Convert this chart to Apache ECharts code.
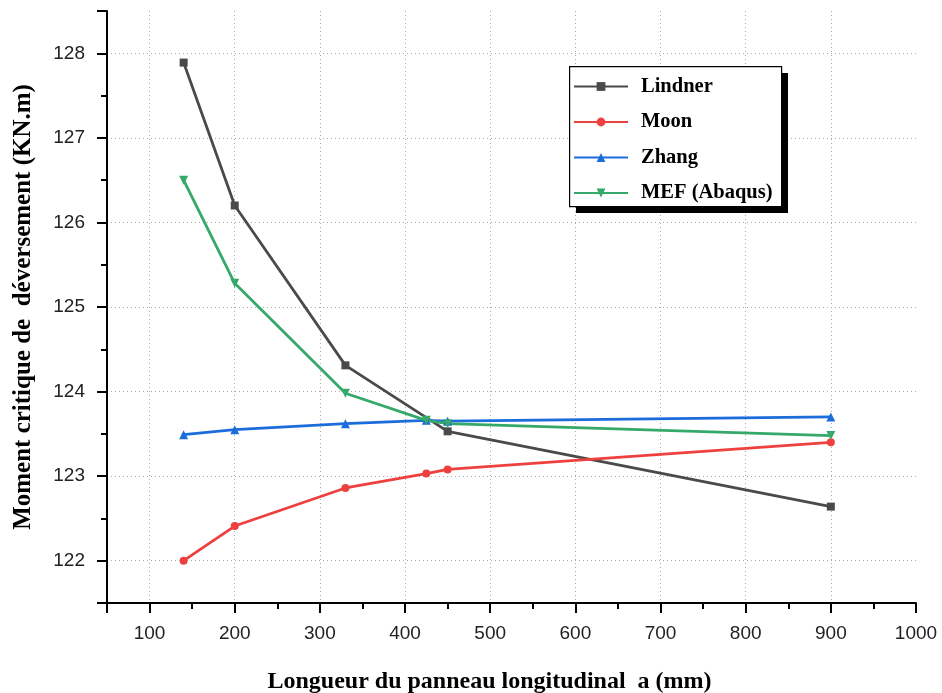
<!DOCTYPE html>
<html>
<head>
<meta charset="utf-8">
<script src="https://cdn.jsdelivr.net/npm/echarts@6/dist/echarts.min.js"></script>
<style>
  html, body { margin: 0; padding: 0; background: #fff; }
  #chart { width: 942px; height: 693px; }
</style>
</head>
<body>
<div id="chart"></div>
<script>
// values
const lindnerX = [140, 200, 330, 450, 900];
const lindnerY = [127.89, 126.2, 124.31, 123.53, 122.64];
const moonX = [140, 200, 330, 425, 450, 900];
const moonY = [122.0, 122.41, 122.86, 123.03, 123.08, 123.4];
const zhangX = [140, 200, 330, 425, 450, 900];
const zhangY = [123.49, 123.55, 123.62, 123.66, 123.65, 123.7];
const mefX = [140, 200, 330, 425, 450, 900];
const mefY = [126.5, 125.28, 123.98, 123.66, 123.62, 123.48];

const pairs = (xs, ys) => xs.map((x, i) => [x, ys[i]]);

const chart = echarts.init(document.getElementById('chart'));

const makeSeries = (name, xs, ys, color, symbol, size) => ({
  name: name,
  type: 'line',
  data: pairs(xs, ys),
  symbol: symbol,
  symbolSize: size,
  showAllSymbol: true,
  lineStyle: { color: color, width: 2.8 },
  itemStyle: { color: color },
  emphasis: { disabled: true }
});

const serif = '"Liberation Serif", "Times New Roman", serif';
const sans = '"Liberation Sans", Arial, sans-serif';

chart.setOption({
  animation: false,
  grid: { left: 107, right: 26, top: 11, bottom: 90, outerBoundsMode: 'none', containLabel: false },
  // legend frame with its offset black shadow
  graphic: [
    { type: 'rect', z: 3, left: 576, top: 73, shape: { width: 212, height: 140 }, style: { fill: '#000' } },
    { type: 'rect', z: 3, left: 569, top: 66, shape: { width: 212, height: 140 }, style: { fill: '#fff', stroke: '#000', lineWidth: 1.2 } }
  ],
  legend: {
    orient: 'vertical',
    left: 573,
    top: 76,
    padding: 0,
    itemGap: 14.5,
    itemWidth: 54,
    itemHeight: 11,
    textStyle: { fontFamily: serif, fontWeight: 'bold', fontSize: 20.5, lineHeight: 20, color: '#000', padding: [0, 0, 0, 8] },
    data: ['Lindner', 'Moon', 'Zhang', 'MEF (Abaqus)']
  },
  xAxis: {
    type: 'value',
    min: 50,
    max: 1000,
    splitNumber: 10,
    name: 'Longueur du panneau longitudinal  a (mm)',
    nameLocation: 'middle',
    nameGap: 67,
    nameTextStyle: { fontFamily: serif, fontWeight: 'bold', fontSize: 24, color: '#000', padding: [0, 44, 0, 0] },
    axisLine: { show: true, onZero: false, lineStyle: { color: '#000', width: 2 } },
    axisTick: { show: true, length: 10, lineStyle: { color: '#000', width: 2 } },
    minorTick: { show: true, splitNumber: 2, length: 6, lineStyle: { color: '#000', width: 2 } },
    axisLabel: { fontFamily: sans, fontSize: 19, color: '#222', margin: 21, showMinLabel: false, formatter: (v) => String(v) },
    splitLine: { show: true, showMinLine: false, showMaxLine: false, lineStyle: { color: '#aaa', type: [1, 3], width: 1 } }
  },
  yAxis: {
    type: 'value',
    min: 121.5,
    max: 128.5,
    splitNumber: 7,
    name: 'Moment critique de  déversement (KN.m)',
    nameLocation: 'middle',
    nameGap: 71,
    nameTextStyle: { fontFamily: serif, fontWeight: 'bold', fontSize: 25, color: '#000' },
    axisLine: { show: true, lineStyle: { color: '#000', width: 2 } },
    axisTick: { show: true, length: 10, lineStyle: { color: '#000', width: 2 } },
    minorTick: { show: true, splitNumber: 2, length: 6, lineStyle: { color: '#000', width: 2 } },
    axisLabel: { fontFamily: sans, fontSize: 19, color: '#222', margin: 22, showMinLabel: false, showMaxLabel: false },
    splitLine: { show: true, showMinLine: false, showMaxLine: false, lineStyle: { color: '#aaa', type: [1, 3], width: 1 } }
  },
  series: [
    makeSeries('Lindner', lindnerX, lindnerY, '#4a4a4a', 'rect', 8),
    makeSeries('Moon', moonX, moonY, '#ef4040', 'circle', 8),
    makeSeries('Zhang', zhangX, zhangY, '#1c6ddc', 'triangle', 9),
    makeSeries('MEF (Abaqus)', mefX, mefY, '#35a96a', 'path://M0,0 L10,0 L5,10 Z', 9)
  ]
});

window.addEventListener('resize', () => chart.resize());
</script>
</body>
</html>
